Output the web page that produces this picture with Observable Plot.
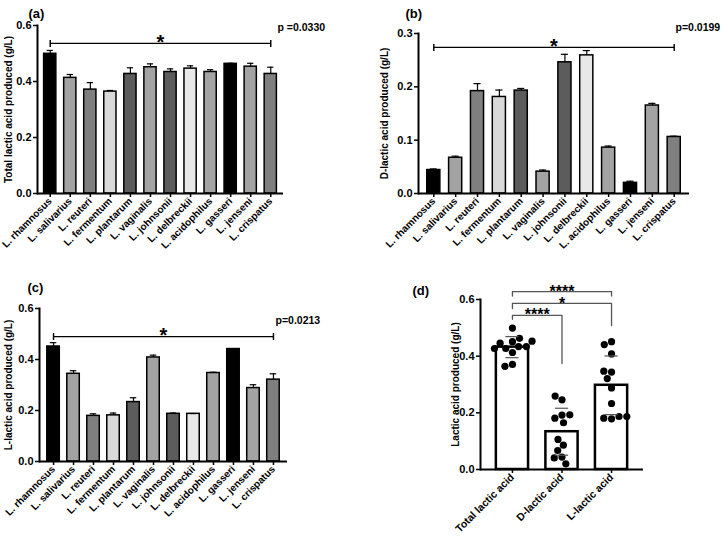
<!DOCTYPE html>
<html><head><meta charset="utf-8">
<script src="https://cdn.jsdelivr.net/npm/d3@7"></script>
<script src="https://cdn.jsdelivr.net/npm/@observablehq/plot@0.6"></script>
<style>
body{margin:0;background:#fff;}
#fig{position:relative;width:721px;height:539px;background:#fff;overflow:hidden;}
.panel{position:absolute;}
.panel svg{position:absolute;left:0;top:0;}
</style>
</head><body>
<div id="fig">
<div class="panel" id="pa" style="left:0;top:0;width:360px;height:270px"></div>
<div class="panel" id="pb" style="left:360px;top:0;width:361px;height:270px"></div>
<div class="panel" id="pc" style="left:0;top:270px;width:360px;height:269px"></div>
<div class="panel" id="pd" style="left:360px;top:270px;width:361px;height:269px"></div>
</div>
<script>
// ---------- data ----------
const strains = ["L. rhamnosus","L. salivarius","L. reuteri","L. fermentum","L. plantarum","L. vaginalis","L. johnsonii","L. delbreckii","L. acidophilus","L. gasseri","L. jenseni","L. crispatus"];
const strainFills = ["#000000","#a3a3a3","#7f7f7f","#d9d9d9","#5c5c5c","#a3a3a3","#5c5c5c","#e8e8e8","#a3a3a3","#000000","#a3a3a3","#7f7f7f"];

const totalLactic = [0.499,0.413,0.371,0.364,0.427,0.451,0.434,0.446,0.434,0.463,0.453,0.427];
const totalErr    = [0.012,0.012,0.025,0.004,0.022,0.012,0.011,0.010,0.008,0.002,0.012,0.024];

const dLactic = [0.044,0.067,0.192,0.181,0.193,0.041,0.246,0.259,0.086,0.020,0.165,0.106];
const dErr    = [0.002,0.003,0.014,0.013,0.004,0.003,0.015,0.009,0.003,0.003,0.004,0.0015];

const lLactic = [0.451,0.344,0.179,0.181,0.233,0.408,0.187,0.187,0.347,0.441,0.288,0.321];
const lErr    = [0.015,0.012,0.008,0.009,0.017,0.009,0.003,0.001,0.003,0.001,0.013,0.023];

const yTicksTotal = [0, 0.2, 0.4, 0.6];
const yTicksD = [0, 0.1, 0.2, 0.3];

const pValues = ["p =0.0330", "p=0.0199", "p=0.0213"];
const sigLevels = [0.536, 0.274, 0.49];
const sigLabel = "*";

const acidGroups = ["Total lactic acid", "D-lactic acid", "L-lactic acid"];
const comparisons = [
  {from: "Total lactic acid", to: "L-lactic acid", label: "****", level: 0.628, fromDrop: 0.612, toDrop: 0.612},
  {from: "Total lactic acid", to: "L-lactic acid", label: "*",    level: 0.586, fromDrop: 0.568, toDrop: 0.508},
  {from: "Total lactic acid", to: "D-lactic acid", label: "****", level: 0.544, fromDrop: 0.530, toDrop: 0.374}
];

// ---------- helpers ----------
const FONT = "'Liberation Sans', Arial, Helvetica, sans-serif";
const baseStyle = () => ({fontFamily: FONT, fontWeight: "bold", fontSize: "10px", background: "transparent", overflow: "visible", color: "black"});

function strainPanel(cfg) {
  const rows = strains.map((s, i) => ({strain: s, value: cfg.values[i], err: cfg.errors[i]}));
  const ends = [strains[0], strains[strains.length - 1]];
  const sig = {label: sigLabel, level: cfg.sigLevel, a: ends[0], b: ends[1]};
  return Plot.plot({
    width: cfg.width, height: cfg.height,
    marginLeft: cfg.ml, marginTop: cfg.mt, marginRight: cfg.mr, marginBottom: cfg.mb,
    style: baseStyle(),
    x: {type: "band", domain: strains, paddingInner: cfg.pi, paddingOuter: cfg.po, round: false, axis: null},
    y: {domain: [0, cfg.yTicks[cfg.yTicks.length - 1]], axis: null},
    color: {type: "ordinal", domain: strains, range: strainFills},
    marks: [
      Plot.barY(rows, {x: "strain", y: "value", fill: "strain", stroke: "black", strokeWidth: 1.5}),
      Plot.ruleX(rows, {x: "strain", y1: "value", y2: d => d.value + d.err, stroke: "black", strokeWidth: 1.2}),
      Plot.tickY(rows, {x: "strain", y: d => d.value + d.err, stroke: "black", strokeWidth: 1.2, insetLeft: 3, insetRight: 3}),
      Plot.axisY({ticks: cfg.yTicks, tickFormat: ".1f", tickSize: 4, tickPadding: 2, strokeWidth: 1.5, fontSize: 11, label: null}),
      Plot.axisX({tickRotate: -45, tickSize: 4, tickPadding: 2, strokeWidth: 1.5, fontSize: 10, label: null}),
      Plot.frame({anchor: "left", strokeWidth: 2}),
      Plot.ruleY([0], {strokeWidth: 2}),
      Plot.text([cfg.yLabel], {frameAnchor: "left", textAnchor: "middle", rotate: -90, dx: cfg.titleDx, fontSize: 10}),
      Plot.link([sig], {x1: "a", x2: "b", y1: "level", y2: "level", stroke: "black", strokeWidth: 1.2, markerStart: "tick", markerEnd: "tick"}),
      Plot.text([sig], {y: "level", text: "label", frameAnchor: "middle", fontSize: 20, dy: -1}),
      Plot.text([cfg.tag], {frameAnchor: "top-left", textAnchor: "start", dx: cfg.tagDx, dy: cfg.tagDy, fontSize: 13}),
      Plot.text([cfg.pText], {frameAnchor: "top-right", textAnchor: "start", dx: cfg.pDx, dy: cfg.pDy, fontSize: 10.5})
    ]
  });
}

document.getElementById("pa").append(strainPanel({
  width: 360, height: 270, ml: 37, mt: 25, mr: 77, mb: 77, pi: 0.39, po: 0.33,
  values: totalLactic, errors: totalErr, yTicks: yTicksTotal, sigLevel: sigLevels[0],
  yLabel: "Total lactic acid produced (g/L)", titleDx: -29,
  tag: "(a)", tagDx: -9, tagDy: -17, pText: pValues[0], pDx: -6, pDy: -2
}));
document.getElementById("pb").append(strainPanel({
  width: 361, height: 270, ml: 58, mt: 33, mr: 32, mb: 77, pi: 0.4, po: 0.4,
  values: dLactic, errors: dErr, yTicks: yTicksD, sigLevel: sigLevels[1],
  yLabel: "D-lactic acid produced (g/L)", titleDx: -34,
  tag: "(b)", tagDx: -13, tagDy: -25, pText: pValues[1], pDx: -14, pDy: -10
}));
document.getElementById("pc").append(strainPanel({
  width: 360, height: 269, ml: 39, mt: 38, mr: 73, mb: 78, pi: 0.375, po: 0.39,
  values: lLactic, errors: lErr, yTicks: yTicksTotal, sigLevel: sigLevels[2],
  yLabel: "L-lactic acid produced (g/L)", titleDx: -31,
  tag: "(c)", tagDx: -12, tagDy: -26, pText: pValues[2], pDx: -12, pDy: 8
}));

// ---------- panel (d) ----------
const acidValues = [totalLactic, dLactic, lLactic];
const points = acidGroups.flatMap((g, i) => acidValues[i].map(v => ({group: g, value: v})));
const stats = acidGroups.map((g, i) => ({group: g, mean: d3.mean(acidValues[i]), sd: d3.deviation(acidValues[i])}));
const bracketPts = comparisons.flatMap((c, k) => [
  {id: k, x: c.from, y: c.fromDrop}, {id: k, x: c.from, y: c.level},
  {id: k, x: c.to, y: c.level}, {id: k, x: c.to, y: c.toDrop}
]);
const D = {width: 361, height: 269, ml: 120, mt: 29, mr: 78, mb: 70, pi: 0.35, po: 0.32};
const dStep = (D.width - D.ml - D.mr) / (acidGroups.length - D.pi + 2 * D.po);

const mainD = Plot.plot({
  width: D.width, height: D.height, marginLeft: D.ml, marginTop: D.mt, marginRight: D.mr, marginBottom: D.mb,
  style: baseStyle(),
  x: {type: "band", domain: acidGroups, paddingInner: D.pi, paddingOuter: D.po, round: false, axis: null},
  y: {domain: [0, 0.6], axis: null},
  marks: [
    Plot.barY(stats, {x: "group", y: "mean", fill: "white", stroke: "black", strokeWidth: 2.5}),
    Plot.axisY({ticks: yTicksTotal, tickFormat: ".1f", tickSize: 4, tickPadding: 2, strokeWidth: 1.5, fontSize: 11, label: null}),
    Plot.axisX({tickRotate: -45, tickSize: 4, tickPadding: 2, strokeWidth: 1.5, fontSize: 10.5, label: null}),
    Plot.frame({anchor: "left", strokeWidth: 2}),
    Plot.ruleY([0], {strokeWidth: 2}),
    Plot.text(["Lactic acid produced (g/L)"], {frameAnchor: "left", textAnchor: "middle", rotate: -90, dx: -25, fontSize: 10}),
    Plot.line(bracketPts, {x: "x", y: "y", z: "id", stroke: "#555", strokeWidth: 1.3, curve: "linear"}),
    ...comparisons.map(c => Plot.text([c], {x: "from", y: "level", text: "label", fontSize: 16, dy: 0,
      dx: dStep * (acidGroups.indexOf(c.to) - acidGroups.indexOf(c.from)) / 2})),
    Plot.text(["(d)"], {frameAnchor: "top-left", textAnchor: "start", dx: -68, dy: -14, fontSize: 13})
  ]
});
const dotsD = Plot.plot({
  width: D.width, height: D.height, marginLeft: D.ml, marginTop: D.mt, marginRight: D.mr, marginBottom: D.mb,
  style: baseStyle(),
  fx: {domain: acidGroups, paddingInner: D.pi, paddingOuter: D.po, round: false, axis: null, label: null},
  y: {domain: [0, 0.6], axis: null},
  marks: [
    Plot.dot(points, Plot.dodgeX({anchor: "middle", padding: 0.6}, {fx: "group", y: "value", r: 3.6, fill: "black"})),
    Plot.ruleX(stats, {fx: "group", y1: d => d.mean - d.sd, y2: d => d.mean + d.sd, stroke: "#555", strokeWidth: 1.2}),
    Plot.tickY(stats, {fx: "group", y: d => d.mean + d.sd, stroke: "#555", strokeWidth: 1.2, insetLeft: 9.5, insetRight: 9.5}),
    Plot.tickY(stats, {fx: "group", y: d => d.mean - d.sd, stroke: "#555", strokeWidth: 1.2, insetLeft: 9.5, insetRight: 9.5})
  ]
});
document.getElementById("pd").append(mainD, dotsD);
</script>
</body></html>
